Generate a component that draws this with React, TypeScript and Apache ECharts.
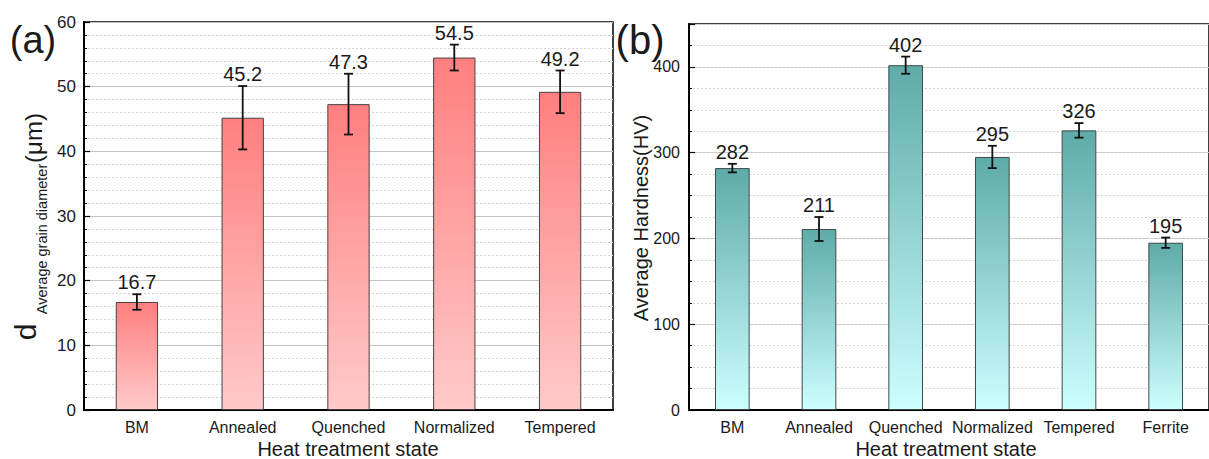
import React, { useEffect, useRef } from "react";
import * as echarts from "echarts";

const catsA = ["BM", "Annealed", "Quenched", "Normalized", "Tempered"];
const grainSize = [16.7, 45.2, 47.3, 54.5, 49.2];
const grainErr = [1.2, 4.9, 4.7, 2.0, 3.3];

const catsB = ["BM", "Annealed", "Quenched", "Normalized", "Tempered", "Ferrite"];
const hardness = [282, 211, 402, 295, 326, 195];
const hardErr = [5, 14, 10, 13, 8.5, 6];

const FONT = 'Arial, "Liberation Sans", sans-serif';
const TXT = "#1a1a1a";

function errRender(params: any, api: any) {
  const x = api.value(0);
  const v = api.value(1);
  const e = api.value(2);
  const top = api.coord([x, v + e]);
  const bot = api.coord([x, v - e]);
  const hw = 4.5;
  const ls = { stroke: "#111", lineWidth: 1.8 };
  const label = String(v);
  return {
    type: "group",
    children: [
      { type: "line", shape: { x1: top[0], y1: top[1], x2: bot[0], y2: bot[1] }, style: ls },
      { type: "line", shape: { x1: top[0] - hw, y1: top[1], x2: top[0] + hw, y2: top[1] }, style: ls },
      { type: "line", shape: { x1: bot[0] - hw, y1: bot[1], x2: bot[0] + hw, y2: bot[1] }, style: ls },
      {
        type: "text",
        style: {
          text: label,
          x: top[0],
          y: top[1] - 2,
          fill: TXT,
          font: `20px ${FONT}`,
          textAlign: "center",
          textVerticalAlign: "bottom",
          align: "center",
          verticalAlign: "bottom",
        },
      },
    ],
  };
}

function txt(text: string, x: number, y: number, size: number, rotation = 0) {
  return {
    type: "text",
    x,
    y,
    rotation,
    style: {
      text,
      fill: TXT,
      font: `${size}px ${FONT}`,
      textAlign: "center",
      textVerticalAlign: "middle",
      align: "center",
      verticalAlign: "middle",
    },
  };
}

export default function App() {
  const ref = useRef<HTMLDivElement>(null);

  useEffect(() => {
    document.body.style.margin = "0";
    if (!ref.current) return;
    const chart = echarts.init(ref.current, undefined, { renderer: "svg" });

    const redGrad = new echarts.graphic.LinearGradient(0, 0, 0, 1, [
      { offset: 0, color: "#ff7f7f" },
      { offset: 1, color: "#ffcaca" },
    ]);
    const tealGrad = new echarts.graphic.LinearGradient(0, 0, 0, 1, [
      { offset: 0, color: "#5eaba8" },
      { offset: 1, color: "#cdffff" },
    ]);

    const axisLine = { show: true, lineStyle: { color: "#000", width: 2 } };
    const majorSplit = { show: true, lineStyle: { color: "#c4c4c4", width: 1 } };
    const minorSplit = { show: true, lineStyle: { color: "#d4d4d4", width: 1, type: [2, 2] } };

    const xAxisBase = (gridIndex: number, data: string[]) => ({
      type: "category",
      gridIndex,
      data,
      boundaryGap: true,
      axisLine,
      axisTick: { show: true, inside: true, alignWithLabel: true, length: 5, lineStyle: { color: "#000", width: 1.2 } },
      axisLabel: { color: TXT, fontSize: 16, fontFamily: FONT, margin: 9, interval: 0 },
      splitLine: { show: false },
    });

    const option: any = {
      animation: false,
      backgroundColor: "#fff",
      grid: [
        { left: 84, top: 22, width: 529, height: 388, show: true, borderColor: "#000", borderWidth: 1.5, backgroundColor: "transparent" },
        { left: 689, top: 24, width: 526, height: 386, show: true, borderColor: "#000", borderWidth: 1.5, backgroundColor: "transparent" },
      ],
      xAxis: [xAxisBase(0, catsA), xAxisBase(1, catsB)],
      yAxis: [
        {
          type: "value",
          gridIndex: 0,
          min: 0,
          max: 60,
          interval: 10,
          axisLine,
          axisTick: { show: true, inside: true, length: 6, lineStyle: { color: "#000", width: 1.2 } },
          minorTick: { show: true, splitNumber: 5, length: 3, lineStyle: { color: "#000", width: 1 } },
          axisLabel: { color: TXT, fontSize: 17, fontFamily: FONT, margin: 8 },
          splitLine: majorSplit,
          minorSplitLine: minorSplit,
        },
        {
          type: "value",
          gridIndex: 1,
          min: 0,
          max: 450,
          interval: 100,
          position: "left",
          axisLine,
          axisTick: { show: true, inside: true, length: 6, lineStyle: { color: "#000", width: 1.2 } },
          axisLabel: {
            color: TXT,
            fontSize: 16,
            fontFamily: FONT,
            margin: 9,
            formatter: (v: number) => (v % 100 === 0 ? String(v) : ""),
          },
          splitLine: majorSplit,
        },
        {
          type: "value",
          gridIndex: 1,
          min: 0,
          max: 450,
          interval: 25,
          position: "left",
          axisLine: { show: false },
          axisTick: { show: true, inside: true, length: 3, lineStyle: { color: "#000", width: 1 } },
          axisLabel: { show: false },
          splitLine: minorSplit,
        },
      ],
      series: [
        {
          type: "bar",
          xAxisIndex: 0,
          yAxisIndex: 0,
          data: grainSize,
          barWidth: "40%",
          itemStyle: { color: redGrad, borderColor: "#4a4040", borderWidth: 1 },
          z: 2,
        },
        {
          type: "custom",
          xAxisIndex: 0,
          yAxisIndex: 0,
          renderItem: errRender,
          data: grainSize.map((v, i) => [i, v, grainErr[i]]),
          encode: { x: 0, y: 1 },
          z: 3,
        },
        {
          type: "bar",
          xAxisIndex: 1,
          yAxisIndex: 1,
          data: hardness,
          barWidth: "40%",
          itemStyle: { color: tealGrad, borderColor: "#3f4a4a", borderWidth: 1 },
          z: 2,
        },
        {
          type: "custom",
          xAxisIndex: 1,
          yAxisIndex: 1,
          renderItem: errRender,
          data: hardness.map((v, i) => [i, v, hardErr[i]]),
          encode: { x: 0, y: 1 },
          z: 3,
        },
      ],
      graphic: [
        txt("(a)", 33, 40, 38),
        txt("(b)", 640, 40, 40),
        txt("Heat treatment state", 348, 449, 20),
        txt("Heat treatment state", 946, 449, 20),
        txt("Average Hardness(HV)", 641, 218, 20, Math.PI / 2),
        {
          type: "group",
          x: 0,
          y: 0,
          rotation: Math.PI / 2,
          children: [
            {
              type: "text",
              x: -332,
              y: 25,
              style: { text: "d", fill: TXT, font: `30px ${FONT}`, textAlign: "center", textVerticalAlign: "middle", align: "center", verticalAlign: "middle" },
            },
            {
              type: "text",
              x: -239,
              y: 42,
              style: { text: "Average grain diameter", fill: TXT, font: `14.5px ${FONT}`, textAlign: "center", textVerticalAlign: "middle", align: "center", verticalAlign: "middle" },
            },
            {
              type: "text",
              x: -138,
              y: 33,
              style: { text: "(μm)", fill: TXT, font: `24px ${FONT}`, textAlign: "center", textVerticalAlign: "middle", align: "center", verticalAlign: "middle" },
            },
          ],
        },
      ],
    };

    chart.setOption(option);
    return () => chart.dispose();
  }, []);

  return <div ref={ref} style={{ width: 1209, height: 459 }} />;
}
